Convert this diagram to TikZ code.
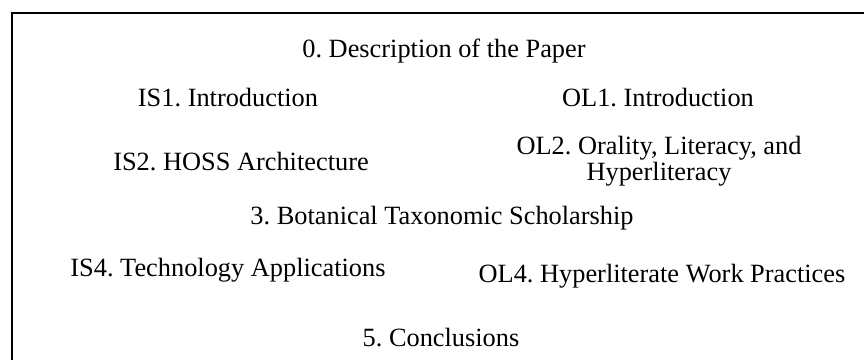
\documentclass[tikz,border=0pt]{standalone}
\usepackage{fontspec}
\setmainfont{Liberation Serif}
\frenchspacing
\begin{document}
\begin{tikzpicture}[x=0.02cm,y=0.02cm,
    sect/.style={anchor=base,inner sep=0pt,font=\fontsize{15}{18}\selectfont}]
            \useasboundingbox (0,0) rectangle (864,360);
            \draw[line width=1.1pt] (12,0) |- (864,347);
            \draw (444,303) node[sect] (D) {0. Description of the Paper};
            \draw (228,254) node[sect] (IS1) {IS1. Introduction};
            \draw (658,254) node[sect] (OL1) {OL1. Introduction};
            \draw (241,190) node[sect] (IS2) {IS2. HOSS Architecture};
            \draw (659,224) node[sect,anchor=north,align=center,
             font=\fontsize{15}{10.2}\selectfont] (OL2) {OL2. Orality, Literacy, and\\Hyperliteracy};
            \draw (442,136) node[sect] (BT) {3. Botanical Taxonomic Scholarship};
            \draw (228,84) node[sect] (IS4) {IS4. Technology Applications};
            \draw (662,78) node[sect] (OL4) {OL4. Hyperliterate Work Practices};
            \draw (441,14) node[sect] (C) {5. Conclusions};
        \end{tikzpicture}
\end{document}
